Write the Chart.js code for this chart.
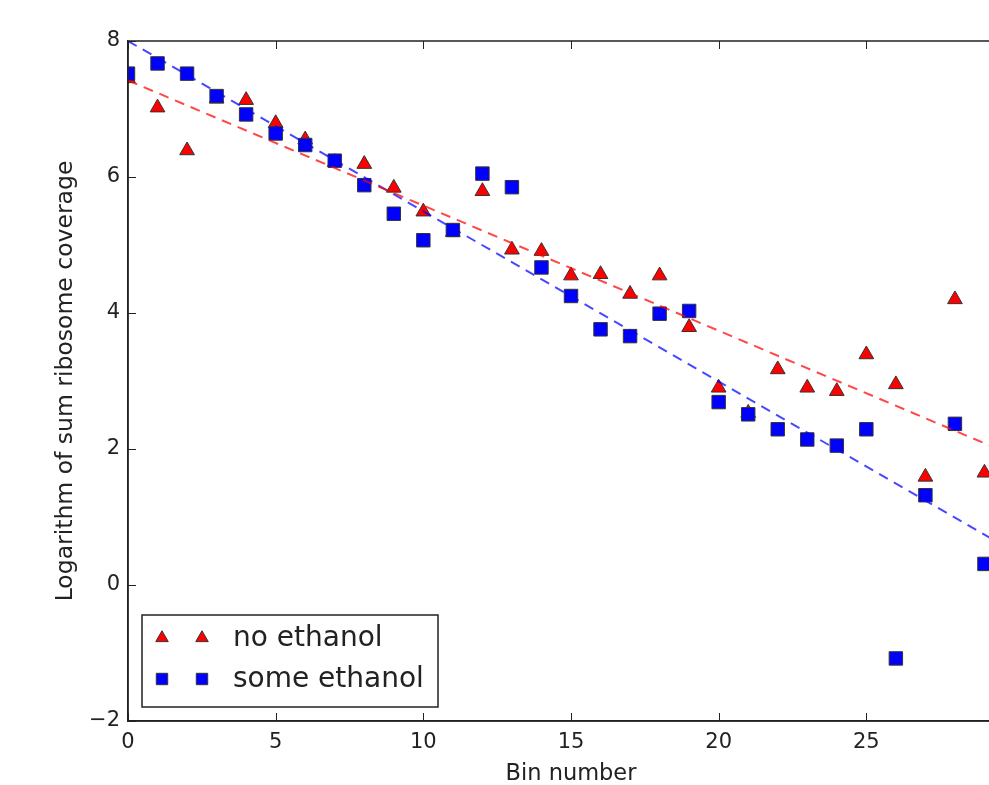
<!DOCTYPE html>
<html>
<head>
<meta charset="utf-8">
<script src="https://cdn.jsdelivr.net/npm/chart.js@4/dist/chart.umd.min.js"></script>
<style>
  html, body { margin: 0; padding: 0; background: #fff; overflow: hidden; }
  #wrap { width: 1040px; height: 785px; }
</style>
</head>
<body>
<div id="wrap"><canvas id="chart" width="1040" height="785"></canvas></div>
<script>
// bin numbers (x axis)
const bins = [0, 1, 2, 3, 4, 5, 6, 7, 8, 9, 10, 11, 12, 13, 14, 15, 16, 17, 18, 19,
              20, 21, 22, 23, 24, 25, 26, 27, 28, 29];
// log of summed ribosome coverage
const noEthanol = [7.45, 7.02, 6.39, 7.15, 7.13, 6.79, 6.55, 6.22, 6.19, 5.84,
                   5.49, 5.19, 5.79, 4.93, 4.91, 4.55, 4.57, 4.28, 4.55, 3.79,
                   2.90, 2.53, 3.17, 2.90, 2.85, 3.39, 2.95, 1.59, 4.20, 1.65];
const someEthanol = [7.52, 7.67, 7.52, 7.19, 6.92, 6.64, 6.47, 6.24, 5.88, 5.46,
                     5.07, 5.22, 6.05, 5.85, 4.67, 4.25, 3.76, 3.66, 3.99, 4.03,
                     2.69, 2.51, 2.29, 2.14, 2.05, 2.29, -1.08, 1.32, 2.37, 0.31];
// dashed fit lines (end points)
const fitX = [0, 30];
const fitNoEthanol = [7.42, 1.90];
const fitSomeEthanol = [8.0, 0.49];

const xTicks = [0, 5, 10, 15, 20, 25, 30];
const yTicks = [-2, 0, 2, 4, 6, 8];

const FONT = 'DejaVu Sans';
const AXIS = '#222';

function pts(xs, ys) {
  return xs.map((x, i) => ({ x: x, y: ys[i] }));
}

// inward tick marks on all four sides + top/right frame
const frame = {
  id: 'frame',
  afterDraw(chart) {
    const ctx = chart.ctx;
    const a = chart.chartArea;
    const xs = chart.scales.x, ys = chart.scales.y;
    ctx.save();
    ctx.strokeStyle = AXIS;
    ctx.lineWidth = 1.5;
    ctx.strokeRect(a.left, a.top, a.right - a.left, a.bottom - a.top);
    ctx.lineWidth = 1;
    xTicks.forEach(v => {
      const px = Math.round(xs.getPixelForValue(v)) + 0.5;
      ctx.beginPath();
      ctx.moveTo(px, a.bottom); ctx.lineTo(px, a.bottom - 8);
      ctx.moveTo(px, a.top); ctx.lineTo(px, a.top + 8);
      ctx.stroke();
    });
    yTicks.forEach(v => {
      const py = Math.round(ys.getPixelForValue(v)) + 0.5;
      ctx.beginPath();
      ctx.moveTo(a.left, py); ctx.lineTo(a.left + 8, py);
      ctx.moveTo(a.right, py); ctx.lineTo(a.right - 8, py);
      ctx.stroke();
    });
    ctx.restore();
  }
};

// matplotlib-like legend: two markers per entry, boxed, lower left
const boxLegend = {
  id: 'boxLegend',
  afterDraw(chart) {
    const ctx = chart.ctx;
    const a = chart.chartArea;
    const entries = chart.data.datasets.filter(d => d.inLegend);
    const left = a.left + 14, bottom = a.bottom - 14;
    const w = 296, h = 92;
    const top = bottom - h;
    ctx.save();
    ctx.fillStyle = '#fff';
    ctx.fillRect(left, top, w, h);
    ctx.strokeStyle = AXIS;
    ctx.lineWidth = 1.5;
    ctx.strokeRect(left, top, w, h);
    ctx.font = '28px "' + FONT + '"';
    ctx.textBaseline = 'middle';
    ctx.textAlign = 'left';
    entries.forEach((d, i) => {
      const cy = top + 23 + i * 41;
      [left + 20, left + 60].forEach(cx => {
        ctx.fillStyle = d.backgroundColor;
        ctx.strokeStyle = d.borderColor;
        ctx.lineWidth = 1;
        Chart.helpers.drawPoint(ctx, {
          pointStyle: d.pointStyle, radius: d.pointRadius * 0.85, rotation: 0, borderWidth: 1
        }, cx, cy);
      });
      ctx.fillStyle = '#222';
      ctx.fillText(d.label, left + 91, cy + 1);
    });
    ctx.restore();
  }
};

new Chart(document.getElementById('chart'), {
  type: 'scatter',
  data: {
    datasets: [
      {
        label: 'no ethanol', inLegend: true,
        data: pts(bins, noEthanol),
        pointStyle: 'triangle', pointRadius: 8.5,
        backgroundColor: '#ff0000', borderColor: '#333', borderWidth: 1,
        order: 2
      },
      {
        label: 'some ethanol', inLegend: true,
        data: pts(bins, someEthanol),
        pointStyle: 'rect', pointRadius: 9.5,
        backgroundColor: '#0000ff', borderColor: '#333', borderWidth: 1,
        order: 1
      },
      {
        type: 'line', label: 'fit no ethanol',
        data: pts(fitX, fitNoEthanol),
        borderColor: 'rgba(255,0,0,0.72)', borderWidth: 2, borderDash: [10, 7],
        pointRadius: 0, fill: false, order: 0
      },
      {
        type: 'line', label: 'fit some ethanol',
        data: pts(fitX, fitSomeEthanol),
        borderColor: 'rgba(0,0,255,0.72)', borderWidth: 2, borderDash: [10, 7],
        pointRadius: 0, fill: false, order: 0
      }
    ]
  },
  options: {
    responsive: false,
    animation: false,
    layout: { padding: { top: 41, right: 26, left: 0, bottom: 0 } },
    plugins: { legend: { display: false }, tooltip: { enabled: false } },
    scales: {
      x: {
        type: 'linear', min: 0, max: 30,
        afterBuildTicks: s => { s.ticks = xTicks.map(v => ({ value: v })); },
        afterFit: s => { s.height = 64; },
        grid: { display: false, drawTicks: false },
        border: { display: true, color: AXIS, width: 1.5 },
        ticks: { color: '#222', padding: 9, font: { family: FONT, size: 21 } },
        title: {
          display: true, text: 'Bin number', color: '#222',
          font: { family: FONT, size: 22.5, lineHeight: 1 }, padding: { top: 0, bottom: 0 }
        }
      },
      y: {
        type: 'linear', min: -2, max: 8,
        afterBuildTicks: s => { s.ticks = yTicks.map(v => ({ value: v })); },
        afterFit: s => { s.width = 128; },
        grid: { display: false, drawTicks: false },
        border: { display: true, color: AXIS, width: 1.5 },
        ticks: {
          color: '#222', padding: 8, font: { family: FONT, size: 21 },
          callback: v => String(v).replace('-', '\u2212')
        },
        title: {
          display: true, text: 'Logarithm of sum ribosome coverage', color: '#222',
          font: { family: FONT, size: 23.5, lineHeight: 1 }, padding: { top: 54, bottom: 0 }
        }
      }
    }
  },
  plugins: [frame, boxLegend]
});
</script>
</body>
</html>
